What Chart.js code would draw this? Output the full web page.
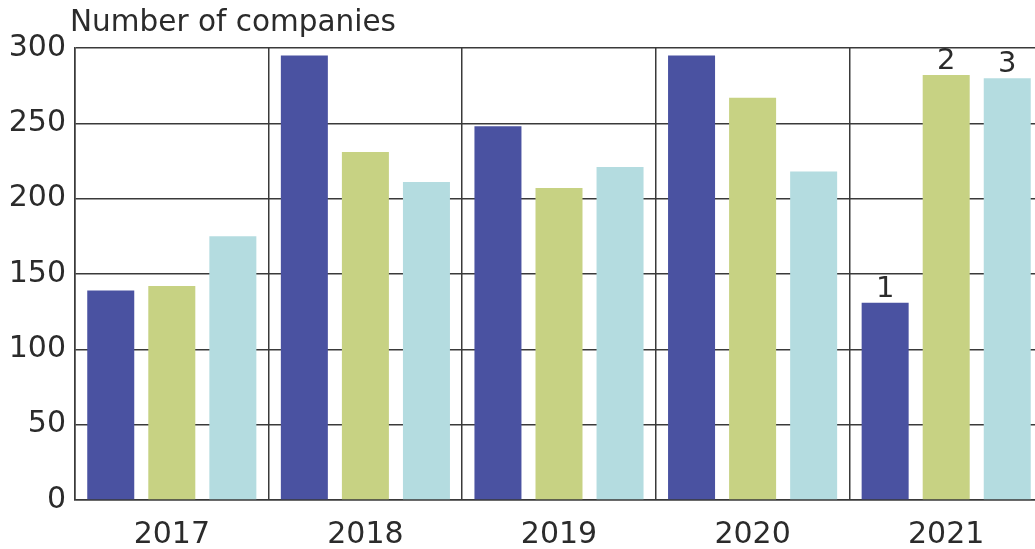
<!DOCTYPE html>
<html>
<head>
<meta charset="utf-8">
<script src="https://cdn.jsdelivr.net/npm/chart.js@4/dist/chart.umd.min.js"></script>
<style>
  html, body { margin: 0; padding: 0; background: #fff; overflow: hidden; }
  #wrap { position: absolute; left: 0; top: 0; width: 1045px; height: 549px; }
</style>
</head>
<body>
<div id="wrap"><canvas id="barChart" width="1045" height="549"></canvas></div>
<script>
var years = ['2017', '2018', '2019', '2020', '2021'];
var series1 = [139, 295, 248, 295, 131];
var series2 = [142, 231, 207, 267, 282];
var series3 = [175, 211, 221, 218, 280];
var yTicks = [0, 50, 100, 150, 200, 250, 300];
var barLabels = ['1', '2', '3'];
var labelYear = '2021';
var titleText = 'Number of companies';

var font = 'DejaVu Sans';
var gridColor = '#3a3a3a';

// title + labels over the 2021 bars
var extras = {
  id: 'extras',
  afterDatasetsDraw: function(chart) {
    var ctx = chart.ctx;
    var area = chart.chartArea;
    ctx.save();
    ctx.fillStyle = '#2b2b2b';
    ctx.font = '29.5px "' + font + '"';
    ctx.textAlign = 'left';
    ctx.textBaseline = 'alphabetic';
    ctx.fillText(titleText, area.left - 5, area.top - 17);

    var idx = years.indexOf(labelYear);
    ctx.font = '29px "' + font + '"';
    ctx.textAlign = 'center';
    ctx.textBaseline = 'bottom';
    chart.data.datasets.forEach(function(ds, i) {
      var el = chart.getDatasetMeta(i).data[idx];
      if (el) ctx.fillText(barLabels[i], el.x, el.y + 1);
    });
    ctx.restore();
  }
};

new Chart(document.getElementById('barChart'), {
  type: 'bar',
  data: {
    labels: years,
    datasets: [
      { data: series1, backgroundColor: '#4a52a1' },
      { data: series2, backgroundColor: '#c7d283' },
      { data: series3, backgroundColor: '#b4dce0' }
    ]
  },
  options: {
    responsive: false,
    animation: false,
    devicePixelRatio: 1,
    categoryPercentage: 0.946,
    barPercentage: 0.77,
    layout: { padding: { top: 48, right: 2, bottom: 0, left: 0 } },
    plugins: {
      legend: { display: false },
      tooltip: { enabled: false }
    },
    scales: {
      x: {
        afterFit: function(scale) { scale.height = 49; },
        grid: { color: gridColor, lineWidth: 1.5, drawTicks: false, offset: true },
        border: { color: gridColor, width: 1.5 },
        ticks: { color: '#2b2b2b', padding: 17, font: { family: font, size: 30 } }
      },
      y: {
        min: 0,
        max: 300,
        afterFit: function(scale) { scale.width = 75; },
        afterBuildTicks: function(scale) {
          scale.ticks = yTicks.map(function(v) { return { value: v }; });
        },
        grid: { color: gridColor, lineWidth: 1.5, drawTicks: false },
        border: { color: gridColor, width: 1.5 },
        ticks: { color: '#2b2b2b', padding: 9, font: { family: font, size: 30 } }
      }
    }
  },
  plugins: [extras]
});
</script>
</body>
</html>
